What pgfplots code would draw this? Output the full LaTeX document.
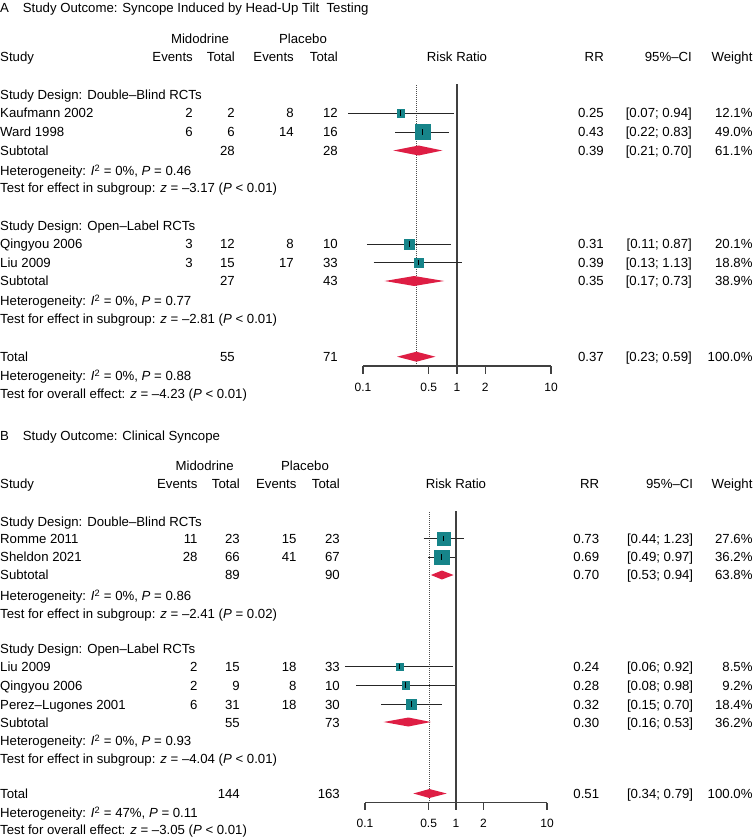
\documentclass[border=0pt]{standalone}
\usepackage{pgfplots}
\pgfplotsset{compat=1.18}
\usepackage{fontspec}
\setmainfont{Liberation Sans}
\definecolor{teal1}{RGB}{22,132,137}
\definecolor{red1}{RGB}{222,30,68}
\newcommand{\tl}[3]{\node[anchor=base west,inner sep=0pt,yshift=-4.7pt] at (#1pt,-#2pt) {#3};}
\newcommand{\tr}[3]{\node[anchor=base east,inner sep=0pt,yshift=-4.7pt] at (#1pt,-#2pt) {#3};}
\newcommand{\tc}[3]{\node[anchor=base,inner sep=0pt,yshift=-4.7pt] at (#1pt,-#2pt) {#3};}
\newcommand{\row}[9]{\tl{0}{#1}{#2}\tr{\xEa}{#1}{#3}\tr{\xTa}{#1}{#4}\tr{\xEb}{#1}{#5}\tr{\xTb}{#1}{#6}\tr{\xRR}{#1}{#7}\tr{\xCI}{#1}{#8}\tr{\xW}{#1}{#9}}
\newcommand{\het}[2]{Heterogeneity: \textit{I}\textsuperscript{2} = #1\%, \textit{P} = #2}
\newcommand{\study}[5]{%
 \addplot[only marks, mark=square*, mark size=#5pt, mark options={fill=teal1, draw=teal1, line width=0.1pt}] coordinates {(#2,#1)};
 \addplot[black!85, line width=0.9pt] coordinates {(#3,#1) (#4,#1)};
 \addplot[only marks, mark=|, mark size=2.6pt, mark options={black, line width=0.7pt}] coordinates {(#2,#1)};
}
\newcommand{\tk}[3]{%
 \addplot[black!75, line width=1.2pt] coordinates {(#1,#2) (#1,#3)};
 \node[anchor=base, inner sep=0pt, font=\fontsize{12}{14}\selectfont] at ([yshift=-17.6pt]axis cs:#1,#3) {#1};
}
% axis line, ticks and tick labels at the bottom (y = #1, tick end = #2)
\newcommand{\xaxis}[2]{%
 \addplot[black!75, line width=1.2pt] coordinates {(0.1,#1) (10,#1)};
 \tk{0.1}{#1}{#2}\tk{0.5}{#1}{#2}\tk{1}{#1}{#2}\tk{2}{#1}{#2}\tk{10}{#1}{#2}
}
\begin{document}
\begin{tikzpicture}[font=\fontsize{13.2}{15.6}\selectfont]
\path[use as bounding box] (0,0) rectangle (753pt,-837pt);
% ---------------- Panel A ----------------
\begin{axis}[scale only axis, xmode=log, xmin=0.1, xmax=10, hide axis, clip=false,
 at={(363pt,-420pt)}, anchor=south west, width=188pt, height=340pt, ymin=-420, ymax=-80]
\addplot[black!70, line width=0.8pt, dash pattern=on 1pt off 1pt] coordinates {(0.37,-366) (0.37,-84)};
\addplot[black!75, line width=1.3pt] coordinates {(1,-366) (1,-84)};
\xaxis{-366}{-373.5}
\study{-113}{0.25}{0.07}{0.94}{3.7}
\study{-132}{0.43}{0.22}{0.83}{7.5}
\addplot[fill=red1, draw=none] coordinates {(0.21,-150.5) (0.39,-145.5) (0.70,-150.5) (0.39,-155.5) (0.21,-150.5)};
\study{-244}{0.31}{0.11}{0.87}{4.8}
\study{-262.7}{0.39}{0.13}{1.13}{4.65}
\addplot[fill=red1, draw=none] coordinates {(0.17,-281) (0.35,-276) (0.73,-281) (0.35,-286) (0.17,-281)};
\addplot[fill=red1, draw=none] coordinates {(0.23,-356.7) (0.37,-351.7) (0.59,-356.7) (0.37,-361.7) (0.23,-356.7)};
\end{axis}
\def\xEa{193}\def\xTa{235}\def\xEb{294}\def\xTb{338}\def\xRR{604}\def\xCI{692}\def\xW{752.7}
\tl{0}{8}{A}
\tl{22.7}{8}{Study Outcome: Syncope Induced by Head-Up Tilt~ Testing}
\tc{200}{39}{Midodrine}
\tc{303}{39}{Placebo}
\row{57}{Study}{Events}{Total}{Events}{Total}{RR}{95\%–CI}{Weight}
\tc{457}{56.7}{Risk Ratio}
\tl{0}{95}{Study Design: Double–Blind RCTs}
\row{113}{Kaufmann 2002}{2}{2}{8}{12}{0.25}{[0.07; 0.94]}{12.1\%}
\row{132}{Ward 1998}{6}{6}{14}{16}{0.43}{[0.22; 0.83]}{49.0\%}
\row{150.5}{Subtotal}{}{28}{}{28}{0.39}{[0.21; 0.70]}{61.1\%}
\tl{0}{171}{\het{0}{0.46}}
\tl{0}{188}{Test for effect in subgroup: \textit{z} = –3.17 (\textit{P} < 0.01)}
\tl{0}{225.7}{Study Design: Open–Label RCTs}
\row{244}{Qingyou 2006}{3}{12}{8}{10}{0.31}{[0.11; 0.87]}{20.1\%}
\row{262.7}{Liu 2009}{3}{15}{17}{33}{0.39}{[0.13; 1.13]}{18.8\%}
\row{281}{Subtotal}{}{27}{}{43}{0.35}{[0.17; 0.73]}{38.9\%}
\tl{0}{301}{\het{0}{0.77}}
\tl{0}{319}{Test for effect in subgroup: \textit{z} = –2.81 (\textit{P} < 0.01)}
\row{356.7}{Total}{}{55}{}{71}{0.37}{[0.23; 0.59]}{100.0\%}
\tl{0}{375.7}{\het{0}{0.88}}
\tl{0}{394}{Test for overall effect: \textit{z} = –4.23 (\textit{P} < 0.01)}
% ---------------- Panel B ----------------
\begin{axis}[scale only axis, xmode=log, xmin=0.1, xmax=10, hide axis, clip=false,
 at={(365pt,-845pt)}, anchor=south west, width=182pt, height=340pt, ymin=-845, ymax=-505]
\addplot[black!70, line width=0.8pt, dash pattern=on 1pt off 1pt] coordinates {(0.51,-802.7) (0.51,-510.7)};
\addplot[black!75, line width=1.3pt] coordinates {(1,-802.7) (1,-510.7)};
\xaxis{-802.7}{-810.2}
\study{-538.5}{0.73}{0.44}{1.23}{6.4}
\study{-557}{0.69}{0.49}{0.97}{7.35}
\addplot[fill=red1, draw=none] coordinates {(0.53,-575) (0.70,-570.5) (0.94,-575) (0.70,-579.5) (0.53,-575)};
\study{-666.5}{0.24}{0.06}{0.92}{3.55}
\study{-685}{0.28}{0.08}{0.98}{3.7}
\study{-704}{0.32}{0.15}{0.70}{5.25}
\addplot[fill=red1, draw=none] coordinates {(0.16,-722) (0.30,-717.5) (0.53,-722) (0.30,-726.5) (0.16,-722)};
\addplot[fill=red1, draw=none] coordinates {(0.34,-793.5) (0.51,-789) (0.79,-793.5) (0.51,-798) (0.34,-793.5)};
\end{axis}
\def\xEa{197.7}\def\xTa{240}\def\xEb{296.7}\def\xTb{340}\def\xRR{599.3}\def\xCI{693.3}\def\xW{752.7}
\tl{0}{435.7}{B}
\tl{22.7}{435.7}{Study Outcome: Clinical Syncope}
\tc{204.7}{465.7}{Midodrine}
\tc{305}{465.7}{Placebo}
\row{484}{Study}{Events}{Total}{Events}{Total}{RR}{95\%–CI}{Weight}
\tc{456}{484}{Risk Ratio}
\tl{0}{521.7}{Study Design: Double–Blind RCTs}
\row{539}{Romme 2011}{11}{23}{15}{23}{0.73}{[0.44; 1.23]}{27.6\%}
\row{557}{Sheldon 2021}{28}{66}{41}{67}{0.69}{[0.49; 0.97]}{36.2\%}
\row{575}{Subtotal}{}{89}{}{90}{0.70}{[0.53; 0.94]}{63.8\%}
\tl{0}{596}{\het{0}{0.86}}
\tl{0}{613.3}{Test for effect in subgroup: \textit{z} = –2.41 (\textit{P} = 0.02)}
\tl{0}{648.3}{Study Design: Open–Label RCTs}
\row{667}{Liu 2009}{2}{15}{18}{33}{0.24}{[0.06; 0.92]}{8.5\%}
\row{685.7}{Qingyou 2006}{2}{9}{8}{10}{0.28}{[0.08; 0.98]}{9.2\%}
\row{704.3}{Perez–Lugones 2001}{6}{31}{18}{30}{0.32}{[0.15; 0.70]}{18.4\%}
\row{722.3}{Subtotal}{}{55}{}{73}{0.30}{[0.16; 0.53]}{36.2\%}
\tl{0}{741}{\het{0}{0.93}}
\tl{0}{758.3}{Test for effect in subgroup: \textit{z} = –4.04 (\textit{P} < 0.01)}
\row{793.3}{Total}{}{144}{}{163}{0.51}{[0.34; 0.79]}{100.0\%}
\tl{0}{813}{\het{47}{0.11}}
\tl{0}{830}{Test for overall effect: \textit{z} = –3.05 (\textit{P} < 0.01)}
\end{tikzpicture}
\end{document}
